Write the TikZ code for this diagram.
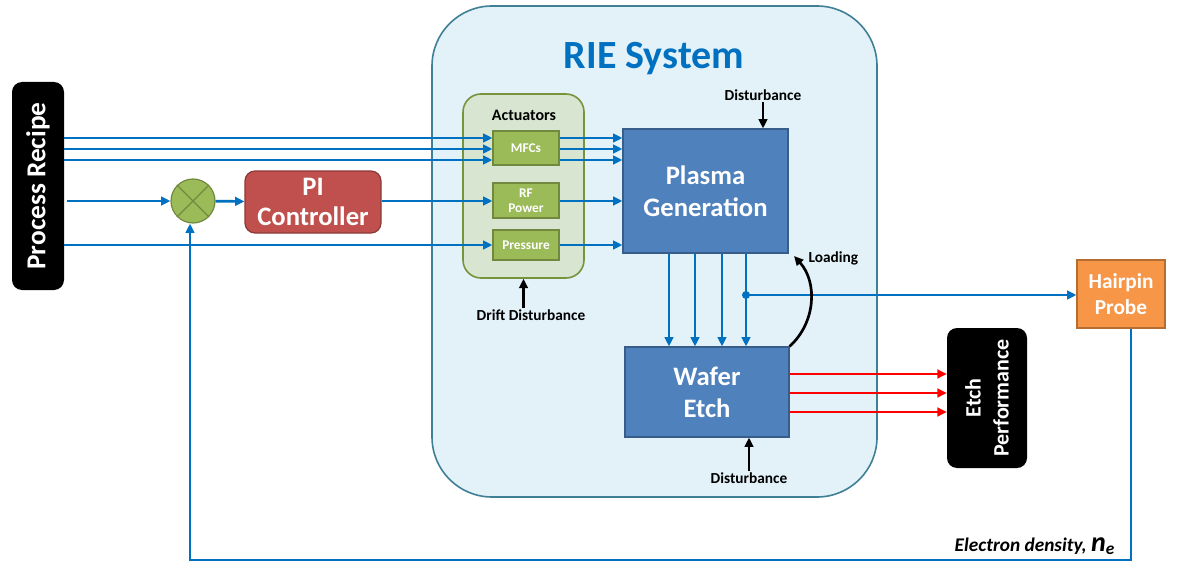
\documentclass[tikz,border=0pt]{standalone}
\usepackage{fontspec}
\setmainfont{Carlito}
\usepackage{tikz}
\usetikzlibrary{calc,positioning,arrows.meta,shapes}

\definecolor{lineblue}{RGB}{0,112,192}
\definecolor{riefill}{RGB}{227,241,248}
\definecolor{rieline}{RGB}{64,128,150}
\definecolor{actfill}{RGB}{216,229,208}
\definecolor{actline}{RGB}{119,147,60}
\definecolor{grnfill}{RGB}{155,187,89}
\definecolor{grnline}{RGB}{113,137,63}
\definecolor{redfill}{RGB}{192,80,77}
\definecolor{redline}{RGB}{140,56,54}
\definecolor{bluefill}{RGB}{79,129,189}
\definecolor{blueline}{RGB}{56,93,138}
\definecolor{orgfill}{RGB}{247,150,70}
\definecolor{orgline}{RGB}{182,109,49}

\begin{document}
\begin{tikzpicture}[x=0.75pt,y=-0.75pt,>={Triangle[length=7pt,width=6.5pt]}]
\tikzstyle{blackbox}=[fill=black, rounded corners=7.5pt, text=white, font=\bfseries, align=center, rotate=90]
\tikzstyle{actbox}=[fill=grnfill, draw=grnline, line width=0.9pt, text=white, font=\bfseries\fontsize{10}{11}\selectfont, align=center, minimum width=49.5pt, inner sep=1pt]
\tikzstyle{bigbox}=[fill=bluefill, draw=blueline, line width=0.9pt, text=white, font=\bfseries\fontsize{20}{24}\selectfont, align=center]
\tikzstyle{flow}=[->, draw=lineblue, line width=2pt]
\tikzstyle{push}=[->, draw=black, line width=2pt]
\tikzstyle{lbl}=[font=\bfseries\fontsize{11.5}{13}\selectfont, inner sep=1pt]
\useasboundingbox (0,0) rectangle (1180,563);

% system frame
\node[fill=riefill, draw=rieline, line width=1.2pt, rounded corners=45pt, minimum width=333.75pt, minimum height=368.25pt] (rie) at (654.5,251.5) {};
\node[text=lineblue, font=\bfseries\fontsize{30}{34}\selectfont] (title) at (654,59) {RIE System};

\node[blackbox, minimum width=156pt, minimum height=39pt, font=\bfseries\fontsize{20.5}{24}\selectfont] (recipe) at (38,186) {Process Recipe};
\node[circle, fill=grnfill, draw=grnline, line width=0.9pt, minimum size=33pt, inner sep=0pt] (sum) at (193,201) {};
\draw[grnline, line width=0.9pt] (sum.45) -- (sum.225) (sum.135) -- (sum.-45);
\node[fill=redfill, draw=redline, line width=0.9pt, rounded corners=7.5pt, text=white, font=\bfseries\fontsize{20}{23}\selectfont, align=center, minimum width=102pt, minimum height=46.5pt] (pi) at (313,202) {PI\\Controller};

% actuators
\node[fill=actfill, draw=actline, line width=1.2pt, rounded corners=13.5pt, minimum width=90.75pt, minimum height=138pt] (act) at (523.5,186) {};
\node[font=\bfseries\fontsize{12}{14}\selectfont] (actlbl) at (524,115) {Actuators};
\node[actbox, minimum height=25.5pt] (mfc) at (526,148) {MFCs};
\node[actbox, minimum height=26.25pt] (rf) at (526,200.5) {RF\\Power};
\node[actbox, minimum height=22.5pt] (pres) at (526,245) {Pressure};

\node[bigbox, minimum width=123.75pt, minimum height=93pt] (plasma) at (705.5,191) {Plasma\\Generation};
\node[bigbox, minimum width=123pt, minimum height=67.5pt] (wafer) at (707,392) {Wafer\\Etch};

\node[blackbox, minimum width=105pt, minimum height=60pt, font=\bfseries\fontsize{16.5}{21}\selectfont] (perf) at (987,398) {Etch\\Performance};
\node[fill=orgfill, draw=orgline, line width=0.9pt, text=white, font=\bfseries\fontsize{16}{19}\selectfont, align=center, minimum width=66pt, minimum height=51pt] (probe) at (1121,294) {Hairpin\\Probe};

% disturbances
\node[lbl] (dist1) at (763,95) {Disturbance};
\node[lbl] (dist2) at (749,478) {Disturbance};
\node[lbl] (drift) at (531,315) {Drift Disturbance};
\node[lbl, anchor=west] (load) at (807,258) {Loading};
\draw[push] (dist1) -- (dist1 |- plasma.north);
\draw[push] (dist2) -- (dist2 |- wafer.south);
\draw[push] (drift.north -| act.south) -- (act.south);

% recipe inputs
\foreach \y in {138,149,160} {
  \draw[flow] (recipe.south |- 0,\y) -- (mfc.west |- 0,\y);
  \draw[flow] (mfc.east |- 0,\y) -- (plasma.west |- 0,\y);
}
\draw[flow] (67,201) -- (sum);
\draw[flow] (sum) -- (pi);
\draw[flow] (pi.east |- 0,201) -- (rf.west |- 0,201);
\draw[flow] (rf.east |- 0,201) -- (plasma.west |- 0,201);
\draw[flow] (recipe.south |- 0,245) -- (pres.west |- 0,245);
\draw[flow] (pres.east |- 0,245) -- (plasma.west |- 0,245);

% plasma to wafer
\foreach \x in {669,695,722,746}
  \draw[flow] (plasma.south -| \x,0) -- (wafer.north -| \x,0);
\coordinate (tap) at (746,295);
\fill[lineblue] (tap) circle (4);
\draw[flow] (tap) -- (probe.west |- tap);
\coordinate (loadend) at (794,256);
\draw[push] (wafer.north east) to[bend right=45] (loadend);

% etch outputs
\foreach \y in {374,393,412}
  \draw[->, draw=red, line width=2pt] (wafer.east |- 0,\y) -- (perf.north |- 0,\y);

% feedback
\coordinate (fb1) at (1131,560);
\coordinate (fb2) at (190,560);
\draw[flow] (probe.south -| 1131,0) -- (fb1) -- (fb2) -- (sum.south -| fb2);
\node[font=\bfseries\itshape\fontsize{14.5}{16}\selectfont, anchor=base east] (ne) at (1119,551) {Electron density, {\fontsize{21}{21}\selectfont n}\raisebox{-2.5pt}{\fontsize{13}{13}\selectfont e}};
\end{tikzpicture}
\end{document}
